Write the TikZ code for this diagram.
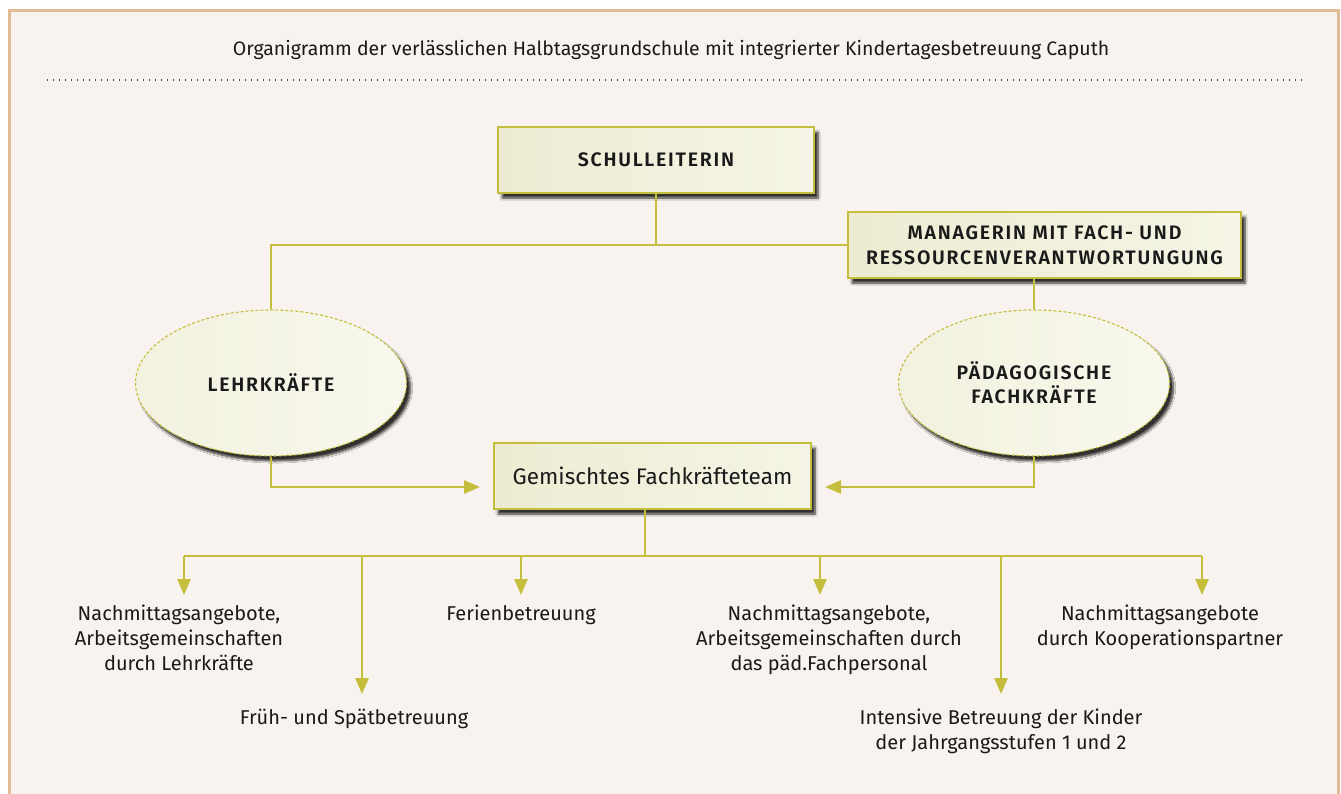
\documentclass[tikz,border=0pt]{standalone}
\usepackage{fontspec}
\setmainfont{Fira Sans}
\newfontfamily\headfont{Fira Sans}[LetterSpace=9,BoldFont={* SemiBold}]
\usetikzlibrary{shapes.geometric,arrows.meta,shadows.blur}

\definecolor{paper}{HTML}{F8F3EE}
\definecolor{rim}{HTML}{E0BB93}
\definecolor{olive}{HTML}{C4BE3C}
\definecolor{cream}{HTML}{EDECD2}
\definecolor{ink}{HTML}{1A1A1A}

\tikzset{
  shade/.style={blur shadow={shadow xshift=4pt,shadow yshift=-5pt,shadow blur steps=8,shadow opacity=80}},
  headbox/.style={rectangle,draw=olive,line width=1.4pt,left color=cream,middle color=white,right color=cream!55,
    shade,align=center,inner sep=0pt,text=ink,font=\headfont\bfseries\fontsize{19.5}{25}\selectfont},
  teambox/.style={rectangle,draw=olive,line width=1.4pt,left color=cream,middle color=white,right color=cream!55,
    shade,align=center,inner sep=0pt,text=ink,font=\fontsize{22.5}{25}\selectfont},
  staff/.style={ellipse,draw=olive,line width=1.1pt,dash pattern=on 3pt off 2pt,left color=cream!70,middle color=white,right color=cream!40,
    shade,align=center,inner sep=0pt,minimum width=271pt,minimum height=146pt,text=ink,font=\headfont\bfseries\fontsize{19.5}{24}\selectfont},
  offer/.style={align=center,inner sep=0pt,anchor=north,text=ink,font=\fontsize{20}{25}\selectfont},
  link/.style={draw=olive,line width=2.8pt},
  feed/.style={link,-{Triangle[width=13pt,length=16pt]}},
}

\begin{document}
\begin{tikzpicture}[x=1pt,y=-1pt]
  % page and frame
  \useasboundingbox (0,0) rectangle (1341,794);
  \fill[white] (0,0) rectangle (1341,794);
  \fill[paper] (9,10) rectangle (1339,794);
  \draw[rim,line width=2.6pt] (9.5,794) -- (9.5,10.5) -- (1338.5,10.5) -- (1338.5,794);

  % heading
  \node[text=ink,font=\fontsize{19.5}{22}\selectfont] (title) at (671,50)
    {Organigramm der verlässlichen Halbtagsgrundschule mit integrierter Kindertagesbetreuung Caputh};
  \coordinate (ruleL) at (47,80);
  \coordinate (ruleR) at (1302,80);
  \draw[black!70,line width=1.3pt,dash pattern=on 1.3pt off 4.7pt] (ruleL) -- (ruleR);

  % management
  \node[headbox,minimum width=316pt,minimum height=66pt] (head) at (656,160) {SCHULLEITERIN};
  \node[headbox,minimum width=393pt,minimum height=66pt] (mgr) at (1044.5,245)
    {MANAGERIN MIT FACH- UND\\RESSOURCENVERANTWORTUNGUNG};

  % staff groups
  \node[staff] (teach) at (271,383) {LEHRKRÄFTE};
  \node[staff] (edu) at (1034,383) {PÄDAGOGISCHE\\FACHKRÄFTE};

  % mixed team
  \node[teambox,minimum width=317pt,minimum height=66pt] (team) at (652.5,476) {Gemischtes Fachkräfteteam};

  % management links
  \draw[link] (head.south) -- (head.south |- mgr.west);
  \draw[link] (teach.north) |- (mgr.west);
  \draw[link] (edu.north) -- (edu.north |- mgr.south);

  % staff into the team
  \coordinate (inL) at (480,487);
  \coordinate (inR) at (825,487);
  \draw[feed] (teach.south) |- (inL);
  \draw[feed] (edu.south) |- (inR);

  % offers
  \node[offer] (o1) at (179,605) {Nachmittagsangebote,\\Arbeitsgemeinschaften\\durch Lehrkräfte};
  \node[offer] (o2) at (354,709) {Früh- und Spätbetreuung};
  \node[offer] (o3) at (521,605) {Ferienbetreuung};
  \node[offer] (o4) at (829,605) {Nachmittagsangebote,\\Arbeitsgemeinschaften durch\\das päd.Fachpersonal};
  \node[offer] (o5) at (1001,709) {Intensive Betreuung der Kinder\\der Jahrgangsstufen 1 und 2};
  \node[offer] (o6) at (1160,605) {Nachmittagsangebote\\durch Kooperationspartner};

  % distribution bus
  \coordinate (hub) at (645,556);
  \coordinate (d1) at (184,556);
  \coordinate (d2) at (362,556);
  \coordinate (d3) at (521,556);
  \coordinate (d4) at (820,556);
  \coordinate (d5) at (1001,556);
  \coordinate (d6) at (1202,556);
  \draw[link] (team.south -| hub) -- (hub);
  \draw[link] (d1) -- (d6);
  \draw[feed,shorten >=10pt] (d1) -- (d1 |- o1.north);
  \draw[feed,shorten >=15pt] (d2) -- (d2 |- o2.north);
  \draw[feed,shorten >=10pt] (d3) -- (d3 |- o3.north);
  \draw[feed,shorten >=10pt] (d4) -- (d4 |- o4.north);
  \draw[feed,shorten >=15pt] (d5) -- (d5 |- o5.north);
  \draw[feed,shorten >=10pt] (d6) -- (d6 |- o6.north);
\end{tikzpicture}
\end{document}
